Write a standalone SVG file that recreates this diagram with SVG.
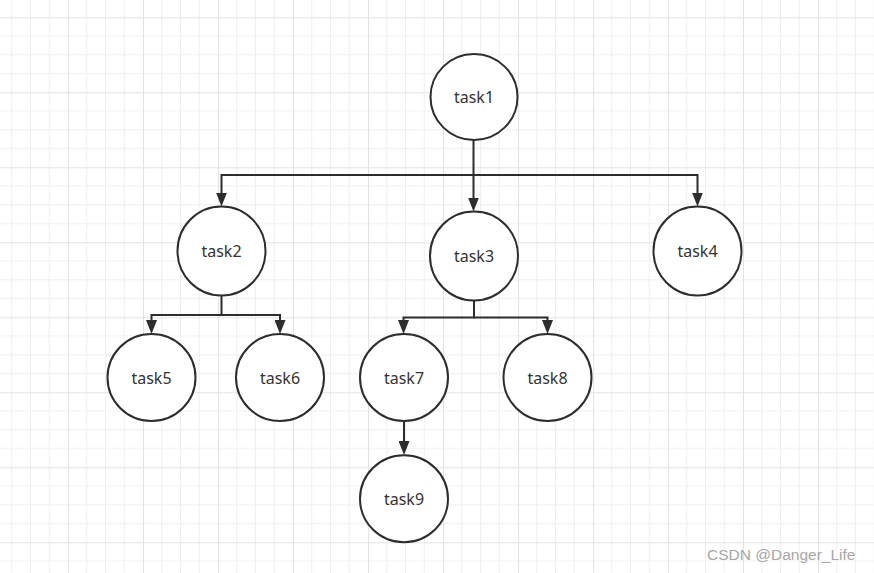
<svg xmlns="http://www.w3.org/2000/svg" width="874" height="573" viewBox="0 0 874 573">
<style>
.node ellipse{fill:#fff;stroke:#2d2d2d;stroke-width:2}
.node text{font-family:"Noto Sans","Liberation Sans",sans-serif;font-size:16px;fill:#333;text-anchor:middle}
.edge{fill:none;stroke:#2d2d2d;stroke-width:2}
.wm{font-family:"Liberation Sans",Arial,sans-serif;font-size:15.5px;fill:#a6a6a6}
</style>
<defs>
<pattern id="grid" patternUnits="userSpaceOnUse" x="-7" y="-57.7" width="75" height="75">
<path d="M18.75,0V75M37.5,0V75M56.25,0V75M0,18.75H75M0,37.5H75M0,56.25H75" stroke="#efefef" stroke-width="1" fill="none"/>
<path d="M0.5,0V75M0,0.5H75" stroke="#e3e3e3" stroke-width="1.2" fill="none"/>
</pattern>
<marker id="arr" viewBox="0 0 14 11" refX="4" refY="5.5" markerWidth="14" markerHeight="11" markerUnits="userSpaceOnUse" orient="auto">
<path d="M0,0L14,5.5L0,11Z" fill="#2d2d2d"/>
</marker>
</defs>
<rect width="874" height="573" fill="#fff"/>
<rect width="874" height="573" fill="url(#grid)"/>
<g id="connectors">
<path class="edge" d="M473.5,140V201.5" marker-end="url(#arr)"/>
<path class="edge" d="M473.5,175H221.5V196.5" marker-end="url(#arr)"/>
<path class="edge" d="M473.5,175H697.5V196.5" marker-end="url(#arr)"/>
<path class="edge" d="M221.5,295.5V315H151.5V324" marker-end="url(#arr)"/>
<path class="edge" d="M221.5,315H280V324" marker-end="url(#arr)"/>
<path class="edge" d="M474,300.5V317.5H403.5V324" marker-end="url(#arr)"/>
<path class="edge" d="M474,317.5H547.5V324" marker-end="url(#arr)"/>
<path class="edge" d="M404,421V445" marker-end="url(#arr)"/>
</g>
<g id="task1" class="node"><ellipse cx="474" cy="97" rx="43.5" ry="43"/><text x="474" y="103">task1</text></g>
<g id="task2" class="node"><ellipse cx="221.5" cy="251" rx="44" ry="44.5"/><text x="221.5" y="257">task2</text></g>
<g id="task3" class="node"><ellipse cx="474" cy="256" rx="44" ry="44.5"/><text x="474" y="262">task3</text></g>
<g id="task4" class="node"><ellipse cx="697.5" cy="251" rx="44" ry="44.5"/><text x="697.5" y="257">task4</text></g>
<g id="task5" class="node"><ellipse cx="151.5" cy="377.5" rx="44" ry="43.5"/><text x="151.5" y="384">task5</text></g>
<g id="task6" class="node"><ellipse cx="280" cy="377.5" rx="44" ry="43.5"/><text x="280" y="384">task6</text></g>
<g id="task7" class="node"><ellipse cx="404" cy="377.5" rx="44" ry="43.5"/><text x="404" y="384">task7</text></g>
<g id="task8" class="node"><ellipse cx="547.5" cy="377.5" rx="44" ry="43.5"/><text x="547.5" y="384">task8</text></g>
<g id="task9" class="node"><ellipse cx="404" cy="498.7" rx="44" ry="43.5"/><text x="404" y="505">task9</text></g>
<text class="wm" x="707" y="560">CSDN @Danger_Life</text>
</svg>
